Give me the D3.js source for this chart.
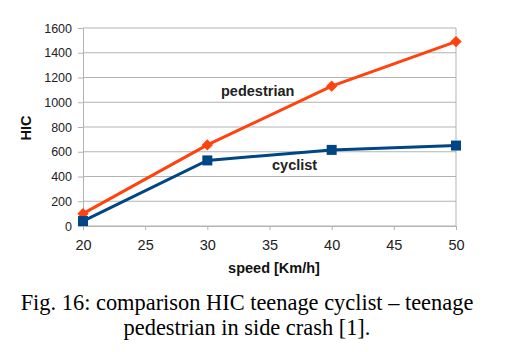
<!DOCTYPE html>
<html>
<head>
<meta charset="utf-8">
<script src="https://cdn.jsdelivr.net/npm/d3@7"></script>
<style>
  body { margin: 0; background: #fff; }
  svg { display: block; }
</style>
</head>
<body>
<svg width="515" height="352"></svg>
<script>
// данные графика
const speeds = [20, 30, 40, 50];
const pedestrianHIC = [100, 655, 1130, 1490];
const cyclistHIC = [40, 530, 615, 650];
const yTicks = [0, 200, 400, 600, 800, 1000, 1200, 1400, 1600];
const xTicks = [20, 25, 30, 35, 40, 45, 50];
const captionLines = [
    "Fig. 16: comparison HIC teenage cyclist \u2013 teenage",
    "pedestrian in side crash [1]."
];

const svg = d3.select("svg");
const sans = "Liberation Sans, Arial, sans-serif";

const area = { left: 83, right: 456, top: 28, bottom: 226 };

const scX = d3.scaleLinear().domain([20, 50]).range([area.left, area.right]);
const scY = d3.scaleLinear().domain([0, 1600]).range([area.bottom, area.top]);

// сетка
svg.append("g")
    .selectAll("line")
    .data(yTicks)
    .enter()
    .append("line")
    .attr("x1", area.left)
    .attr("x2", area.right)
    .attr("y1", d => scY(d))
    .attr("y2", d => scY(d))
    .attr("stroke", "#b3b3b3")
    .attr("stroke-width", 1);

// правая граница
svg.append("line")
    .attr("x1", area.right).attr("x2", area.right)
    .attr("y1", area.top).attr("y2", area.bottom)
    .attr("stroke", "#b3b3b3");

// оси
const axisY = d3.axisLeft(scY).tickValues(yTicks).tickFormat(d3.format("d"))
    .tickSize(5).tickPadding(6);
const axisX = d3.axisBottom(scX).tickValues(xTicks).tickFormat(d3.format("d"))
    .tickSize(4).tickPadding(10);

const gY = svg.append("g").attr("transform", `translate(${area.left},0)`).call(axisY);
const gX = svg.append("g").attr("transform", `translate(0,${area.bottom})`).call(axisX);

[gY, gX].forEach(g => {
    g.select(".domain").attr("stroke", "#b3b3b3");
    g.selectAll(".tick line").attr("stroke", "#b3b3b3");
    g.selectAll("text")
        .attr("fill", "#222")
        .style("font-family", sans);
});
gY.selectAll("text").style("font-size", "12.5px");
gX.selectAll("text").style("font-size", "14.5px");

// подписи осей
svg.append("text")
    .attr("transform", `translate(31,128) rotate(-90)`)
    .attr("text-anchor", "middle")
    .style("font-family", sans)
    .style("font-size", "14.5px")
    .style("font-weight", "bold")
    .attr("fill", "#111")
    .text("HIC");

svg.append("text")
    .attr("x", 274)
    .attr("y", 273)
    .attr("text-anchor", "middle")
    .style("font-family", sans)
    .style("font-size", "14.5px")
    .style("font-weight", "bold")
    .attr("fill", "#111")
    .text("speed [Km/h]");

// линии
const line = d3.line().x(d => scX(d[0])).y(d => scY(d[1]));

function drawSeries(values, color, symbolSize, rotate) {
    const pts = speeds.map((s, i) => [s, values[i]]);
    svg.append("path")
        .datum(pts)
        .attr("d", line)
        .attr("fill", "none")
        .attr("stroke", color)
        .attr("stroke-width", 3);
    svg.selectAll(null)
        .data(pts)
        .enter()
        .append("path")
        .attr("d", d3.symbol().type(d3.symbolSquare).size(symbolSize))
        .attr("transform", d => `translate(${scX(d[0])},${scY(d[1])}) rotate(${rotate})`)
        .attr("fill", color);
}

drawSeries(pedestrianHIC, "#ff420e", 64, 45);
drawSeries(cyclistHIC, "#004586", 100, 0);

// подписи серий
svg.append("text")
    .attr("x", 221).attr("y", 96)
    .style("font-family", sans)
    .style("font-size", "14.5px")
    .style("font-weight", "bold")
    .attr("fill", "#222")
    .text("pedestrian");

svg.append("text")
    .attr("x", 272).attr("y", 170)
    .style("font-family", sans)
    .style("font-size", "14.5px")
    .style("font-weight", "bold")
    .attr("fill", "#222")
    .text("cyclist");

// подпись рисунка
svg.selectAll("text.caption")
    .data(captionLines)
    .enter()
    .append("text")
    .attr("class", "caption")
    .attr("x", 247)
    .attr("y", (d, i) => 310 + i * 25)
    .attr("text-anchor", "middle")
    .style("font-family", "Liberation Serif, Times New Roman, serif")
    .style("font-size", "22.4px")
    .attr("fill", "#000")
    .text(d => d);
</script>
</body>
</html>
